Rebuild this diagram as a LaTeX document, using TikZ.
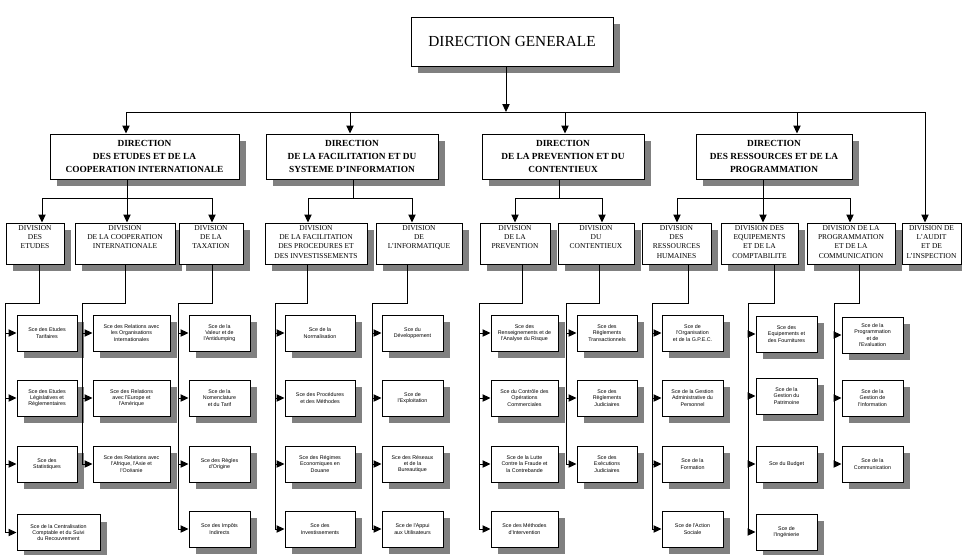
\documentclass[tikz,border=0pt]{standalone}
\usepackage{fontspec}
\setmainfont{Liberation Serif}
\newfontfamily\scefont{Liberation Sans}
\usepackage{tikz}
\usetikzlibrary{arrows.meta}
\usetikzlibrary{shadows}
\newdimen\px
\px=0.75pt
\newcommand{\drawarrow}{\draw[-{Triangle[length=6pt,width=5.5pt]}]}
\newcommand{\dtxt}[1]{\vbox to 39\px{\hbox{\begin{tabular}[t]{@{}c@{}}#1\end{tabular}}\vss}}

\begin{document}
\begin{tikzpicture}[x=0.75pt, y=-0.75pt, line width=0.75pt,
    orgbox/.style={draw, fill=white, inner sep=0pt,
        drop shadow={shadow xshift=5.5pt, shadow yshift=-5.5pt, fill=black!50, opacity=1}},
    dirnode/.style={orgbox, align=center, minimum height=45\px,
        font=\bfseries\fontsize{7}{10}\selectfont},
    divnode/.style={orgbox, minimum height=41\px, font=\fontsize{5.6}{6.9}\selectfont},
    scenode/.style={orgbox, align=center, minimum height=36\px,
        font=\scefont\fontsize{4}{4.7}\selectfont}]
    \useasboundingbox (0,0) rectangle (962,554);

    % Direction generale
    \node[orgbox, minimum width=202\px, minimum height=49\px,
          font=\fontsize{11.5}{14}\selectfont] (dg) at (512,41.5) {DIRECTION GENERALE};

    % Directions
    \node[dirnode, minimum width=189\px] (d1) at (144.5,156.5) {DIRECTION\\DES ETUDES ET DE LA\\COOPERATION INTERNATIONALE};
    \node[dirnode, minimum width=172\px] (d2) at (352,156.5) {DIRECTION\\DE LA FACILITATION ET DU\\SYSTEME D'INFORMATION};
    \node[dirnode, minimum width=162\px] (d3) at (563,156.5) {DIRECTION\\DE LA PREVENTION ET DU\\CONTENTIEUX};
    \node[dirnode, minimum width=156\px] (d4) at (774,156.5) {DIRECTION\\DES RESSOURCES ET DE LA\\PROGRAMMATION};

    % Divisions
    \node[divnode, minimum width=58\px] (v1) at (35,243.5) {\dtxt{DIVISION\\DES\\ETUDES}};
    \node[divnode, minimum width=100\px] (v2) at (125,243.5) {\dtxt{DIVISION\\DE LA COOPERATION\\INTERNATIONALE}};
    \node[divnode, minimum width=64\px] (v3) at (211,243.5) {\dtxt{DIVISION\\DE LA\\TAXATION}};
    \node[divnode, minimum width=102\px] (v4) at (316,243.5) {\dtxt{DIVISION\\DE LA FACILITATION\\DES PROCEDURES ET\\DES INVESTISSEMENTS}};
    \node[divnode, minimum width=86\px] (v5) at (419,243.5) {\dtxt{DIVISION\\DE\\L'INFORMATIQUE}};
    \node[divnode, minimum width=70\px] (v6) at (515,243.5) {\dtxt{DIVISION\\DE LA\\PREVENTION}};
    \node[divnode, minimum width=76\px] (v7) at (596,243.5) {\dtxt{DIVISION\\DU\\CONTENTIEUX}};
    \node[divnode, minimum width=69\px] (v8) at (676.5,243.5) {\dtxt{DIVISION\\DES\\RESSOURCES\\HUMAINES}};
    \node[divnode, minimum width=77\px] (v9) at (759.5,243.5) {\dtxt{DIVISION DES\\EQUIPEMENTS\\ET DE LA\\COMPTABILITE}};
    \node[divnode, minimum width=88\px] (v10) at (851,243.5) {\dtxt{DIVISION DE LA\\PROGRAMMATION\\ET DE LA\\COMMUNICATION}};
    \node[divnode, minimum width=59\px] (v11) at (931.5,243.5) {\dtxt{DIVISION DE\\L'AUDIT\\ET DE\\L'INSPECTION}};

    % Services
    \node[scenode, minimum width=60\px] (s1-1) at (47,333) {Sce des Etudes\\Tarifaires};
    \node[scenode, minimum width=60\px] (s1-2) at (47,398) {Sce des Etudes\\Législatives et\\Réglementaires};
    \node[scenode, minimum width=60\px] (s1-3) at (47,464) {Sce des\\Statistiques};
    \node[scenode, minimum width=83\px] (s1-4) at (58.5,532.5) {Sce de la Centralisation\\Comptable et du Suivi\\du Recouvrement};

    \node[scenode, minimum width=77\px] (s2-1) at (131.5,333) {Sce des Relations avec\\les Organisations\\Internationales};
    \node[scenode, minimum width=77\px] (s2-2) at (131.5,398) {Sce des Relations\\avec l'Europe et\\l'Amérique};
    \node[scenode, minimum width=77\px] (s2-3) at (131.5,464) {Sce des Relations avec\\l'Afrique, l'Asie et\\l'Océanie};

    \node[scenode, minimum width=61\px] (s3-1) at (219.5,333) {Sce de la\\Valeur et de\\l'Antidumping};
    \node[scenode, minimum width=61\px] (s3-2) at (219.5,398) {Sce de la\\Nomenclature\\et du Tarif};
    \node[scenode, minimum width=61\px] (s3-3) at (219.5,464) {Sce des Règles\\d'Origine};
    \node[scenode, minimum width=61\px] (s3-4) at (219.5,529) {Sce des Impôts\\Indirects};

    \node[scenode, minimum width=70\px] (s4-1) at (320,333) {Sce de la\\Normalisation};
    \node[scenode, minimum width=70\px] (s4-2) at (320,398) {Sce des Procédures\\et des Méthodes};
    \node[scenode, minimum width=70\px] (s4-3) at (320,464) {Sce des Régimes\\Economiques en\\Douane};
    \node[scenode, minimum width=70\px] (s4-4) at (320,529) {Sce des\\Investissements};

    \node[scenode, minimum width=61\px] (s5-1) at (412.5,333) {Sce du\\Développement};
    \node[scenode, minimum width=61\px] (s5-2) at (412.5,398) {Sce de\\l'Exploitation};
    \node[scenode, minimum width=61\px] (s5-3) at (412.5,464) {Sce des Réseaux\\et de la\\Bureautique};
    \node[scenode, minimum width=61\px] (s5-4) at (412.5,529) {Sce de l'Appui\\aux Utilisateurs};

    \node[scenode, minimum width=67\px] (s6-1) at (524.5,333) {Sce des\\Renseignements et de\\l'Analyse du Risque};
    \node[scenode, minimum width=67\px] (s6-2) at (524.5,398) {Sce du Contrôle des\\Opérations\\Commerciales};
    \node[scenode, minimum width=67\px] (s6-3) at (524.5,464) {Sce de la Lutte\\Contre la Fraude et\\la Contrebande};
    \node[scenode, minimum width=67\px] (s6-4) at (524.5,529) {Sce des Méthodes\\d'Intervention};

    \node[scenode, minimum width=60\px] (s7-1) at (607,333) {Sce des\\Règlements\\Transactionnels};
    \node[scenode, minimum width=60\px] (s7-2) at (607,398) {Sce des\\Règlements\\Judiciaires};
    \node[scenode, minimum width=60\px] (s7-3) at (607,464) {Sce des\\Exécutions\\Judiciaires};

    \node[scenode, minimum width=61\px] (s8-1) at (692.5,333) {Sce de\\l'Organisation\\et de la G.P.E.C.};
    \node[scenode, minimum width=61\px] (s8-2) at (692.5,398) {Sce de la Gestion\\Administrative du\\Personnel};
    \node[scenode, minimum width=61\px] (s8-3) at (692.5,464) {Sce de la\\Formation};
    \node[scenode, minimum width=61\px] (s8-4) at (692.5,529) {Sce de l'Action\\Sociale};

    \node[scenode, minimum width=61\px] (s9-1) at (786.5,334) {Sce des\\Equipements et\\des Fournitures};
    \node[scenode, minimum width=61\px] (s9-2) at (786.5,396) {Sce de la\\Gestion du\\Patrimoine};
    \node[scenode, minimum width=61\px] (s9-3) at (786.5,464) {Sce du Budget};
    \node[scenode, minimum width=61\px] (s9-4) at (786.5,532) {Sce de\\l'Ingénierie};

    \node[scenode, minimum width=61\px] (s10-1) at (872.5,335) {Sce de la\\Programmation\\et de\\l'Evaluation};
    \node[scenode, minimum width=61\px] (s10-2) at (872.5,398) {Sce de la\\Gestion de\\l'Information};
    \node[scenode, minimum width=61\px] (s10-3) at (872.5,464) {Sce de la\\Communication};

    % Draw links to directions
    \coordinate (j0) at (506,112);
    \foreach \i/\x in {1/126,2/350,3/565,4/797,5/925} {
        \coordinate (j\i) at (\x,112);
    }
    \drawarrow (dg.south -| j0) -- (j0);
    \draw (j1) -- (j5);
    \foreach \i in {1,...,4} {
        \drawarrow (j\i) -- (j\i |- d\i.north);
    }
    \drawarrow (j5) -- (j5 |- v11.north);

    % Draw links to divisions
    \foreach \i/\x in {1/42,2/127,3/212,4/308,5/412,6/515,7/602,8/677,9/763,10/850} {
        \coordinate (a\i) at (\x,198);
    }
    \coordinate (m2) at (353,198);
    \coordinate (m3) at (559,198);
    \draw (a1) -- (a3);
    \draw (a4) -- (a5);
    \draw (a6) -- (a7);
    \draw (a8) -- (a10);
    \draw (a2 |- d1.south) -- (a2);
    \draw (m2 |- d2.south) -- (m2);
    \draw (m3 |- d3.south) -- (m3);
    \draw (a9 |- d4.south) -- (a9);
    \foreach \i in {1,...,10} {
        \drawarrow (a\i) -- (a\i |- v\i.north);
    }

    % Draw links to services
    \foreach \c/\n/\xd/\xv in {1/4/39/5, 2/3/125/82, 3/4/212/178, 4/4/307/275, 5/4/407/372,
                               6/4/522/479, 7/3/599/566, 8/4/688/652, 9/4/774/748, 10/3/859/834} {
        \coordinate (t\c) at (\xd,303);
        \coordinate (u\c) at (\xv,303);
        \draw (t\c |- v\c.south) -- (t\c) -- (u\c) -- (u\c |- s\c-\n.west);
        \foreach \r in {1,...,\n} {
            \drawarrow (u\c |- s\c-\r.west) -- (s\c-\r.west);
        }
    }
\end{tikzpicture}
\end{document}
